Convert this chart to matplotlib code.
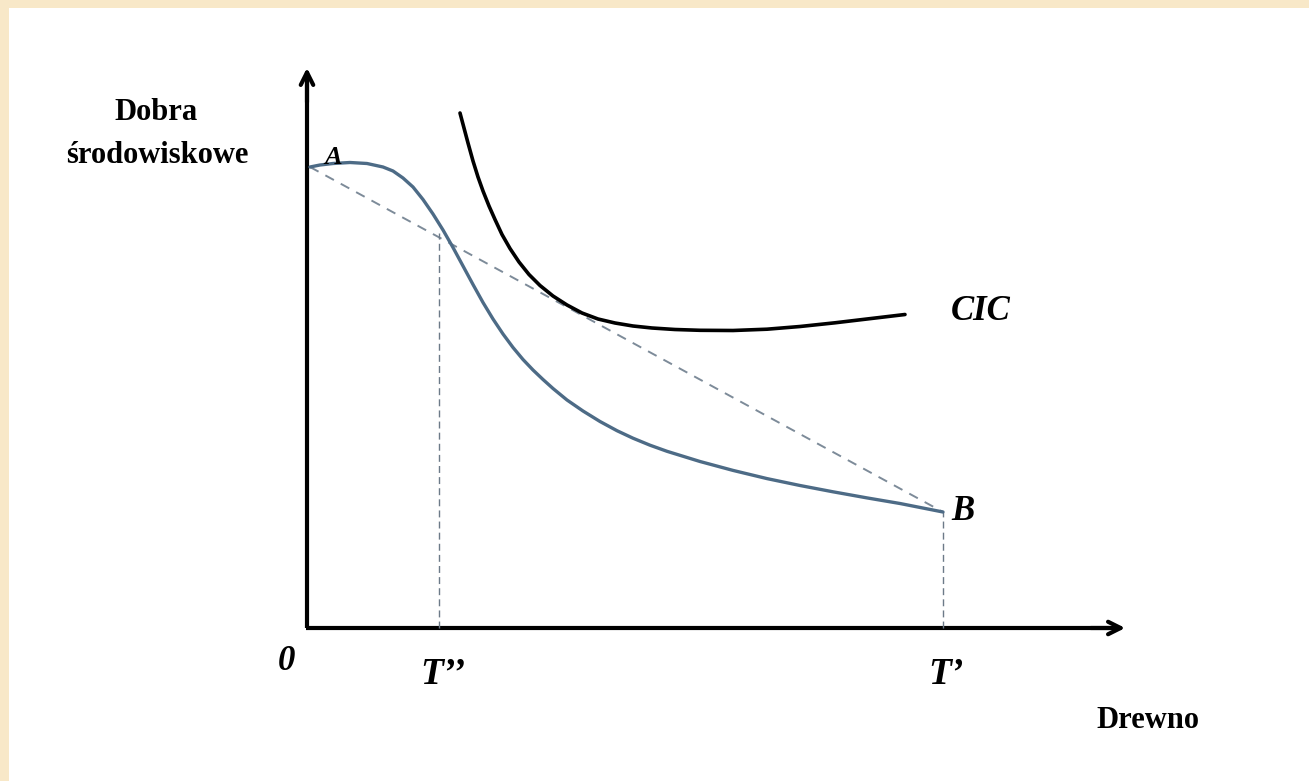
import matplotlib.pyplot as plt
from matplotlib.patches import Rectangle
import numpy as np

# data in plot units, origin at the corner of the axes
ppf_x = [3, 13, 26, 43, 60, 76, 86, 96, 106, 116, 126, 136, 146, 156, 166, 176, 186, 196, 206,
         216, 226, 236, 246, 260, 276, 293, 310, 326, 343, 360, 393, 426, 460, 493, 526, 560, 593, 636]
ppf_y = [461, 463, 464.5, 465.5, 464.5, 461, 457, 450, 441, 428.5, 414, 398, 380.5, 362, 343.5,
         325.5, 309, 294, 280.5, 268.5, 258, 248.5, 239.5, 228, 217, 206.5, 197.3, 189.8, 182.8,
         176.7, 166.5, 157.6, 149.4, 142.5, 136.2, 130.1, 124.5, 116]

cic_x = [153, 157, 161, 166, 171, 176, 182, 188, 195, 203, 212, 222, 233, 246, 260, 275, 291,
         308, 326, 345, 368, 393, 426, 460, 493, 528, 560, 598]
cic_y = [515, 500, 485, 467, 451, 437, 422, 408.5, 393.5, 379.5, 366, 353.5, 342.5, 332, 323,
         315, 309, 305, 302, 300, 298.5, 297.7, 297.5, 298.8, 301.5, 305.2, 309, 313.5]

chord_x = [3, 636]
chord_y = [461, 116]

t2_x, t1_x = 132, 636
t2_top, t1_top = 395, 116

x_end, y_end = 821, 563

fig = plt.figure(figsize=(13.09, 7.81), dpi=100)
fig.patch.set_facecolor('#f8e8c8')
ax = fig.add_axes([0, 0, 1, 1])
ax.set_xlim(-307, 1002)
ax.set_ylim(-153, 628)
ax.axis('off')
ax.add_patch(Rectangle((9 / 1309, 0), 1, 1 - 8 / 781, transform=fig.transFigure,
                       facecolor='white', edgecolor='none', zorder=-10))

# axes with arrows
ax.plot([0, 0], [0, y_end - 10], color='black', lw=3.0, solid_capstyle='butt')
ax.plot([-1.5, x_end - 10], [0, 0], color='black', lw=3.0, solid_capstyle='butt')
ax.annotate('', xy=(0, y_end), xytext=(0, y_end - 40),
            arrowprops=dict(arrowstyle='->,head_length=0.9,head_width=0.45', lw=3.0, color='black'))
ax.annotate('', xy=(x_end, 0), xytext=(x_end - 40, 0),
            arrowprops=dict(arrowstyle='->,head_length=0.9,head_width=0.45', lw=3.0, color='black'))

# chord A-B and drop lines
ax.plot(chord_x, chord_y, color='#7d8b99', lw=1.4, ls=(0, (5, 4)))
ax.plot([t2_x, t2_x], [0, t2_top], color='#6c7a88', lw=1.0, ls=(0, (5, 3)))
ax.plot([t1_x, t1_x], [0, t1_top], color='#6c7a88', lw=1.0, ls=(0, (5, 3)))

# production possibility curve and CIC
ax.plot(ppf_x, ppf_y, color='#4d6b86', lw=2.4, solid_capstyle='round', solid_joinstyle='round')
ax.plot(cic_x, cic_y, color='black', lw=2.6, solid_capstyle='round', solid_joinstyle='round')

serif = 'Liberation Serif'
bi = dict(fontweight='bold', style='italic', family=serif, ha='center', va='center')
ax.text(-151, 508, 'Dobra', fontsize=22, fontweight='bold', family=serif, ha='center', va='baseline')
ax.text(-150, 465, 'środowiskowe', fontsize=22, fontweight='bold', family=serif, ha='center', va='baseline')
ax.text(26, 470, 'A', fontsize=19, **bi)
ax.text(656, 116, 'B', fontsize=25, **bi)
ax.text(674, 317, 'CIC', fontsize=25, **bi)
ax.text(-21, -33, '0', fontsize=25, **bi)
ax.text(t2_x + 4, -46, 'T’’', fontsize=27, **bi)
ax.text(t1_x + 3, -46, 'T’', fontsize=27, **bi)
ax.text(841, -92, 'Drewno', fontsize=22, fontweight='bold', family=serif, ha='center', va='center')

fig.savefig('out.png', dpi=100, facecolor=fig.get_facecolor())
